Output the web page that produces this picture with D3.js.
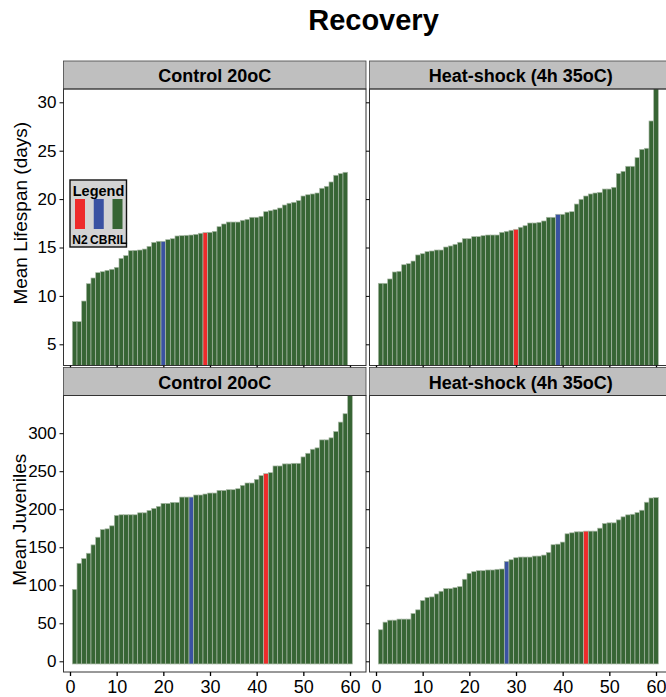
<!DOCTYPE html>
<html>
<head>
<meta charset="utf-8">
<script src="https://cdn.jsdelivr.net/npm/d3@7"></script>
<style>
  body { margin: 0; background: #fff; }
  text { font-family: "Liberation Sans", Arial, sans-serif; }
</style>
</head>
<body>
<div id="chart"></div>
<script>
// bar heights, sorted per panel (index 1..n)
const lifespanControl = [7.34, 7.34, 9.47, 11.26, 11.85, 12.40, 12.5, 12.64, 12.75, 12.95,
  13.88, 14.16, 14.67, 14.70, 14.74, 14.84, 15.12, 15.53, 15.64, 15.64,
  15.81, 15.91, 16.19, 16.22, 16.26, 16.29, 16.36, 16.47, 16.54, 16.57,
  16.67, 17.15, 17.43, 17.63, 17.63, 17.63, 17.81, 17.91, 18.12, 18.12,
  18.22, 18.70, 18.80, 18.91, 19.08, 19.39, 19.57, 19.67, 19.84, 20.32,
  20.45, 20.53, 20.63, 21.12, 21.32, 21.77, 22.46, 22.63, 22.77];
const lifespanHeat = [11.3, 11.3, 11.75, 12.47, 12.54, 13.22, 13.33, 13.6, 14.23, 14.36,
  14.57, 14.64, 14.74, 14.74, 15.05, 15.16, 15.33, 15.54, 15.91, 15.91,
  16.12, 16.12, 16.22, 16.29, 16.29, 16.29, 16.57, 16.67, 16.78, 16.88,
  17.09, 17.25, 17.53, 17.53, 17.6, 17.74, 18.12, 18.12, 18.43, 18.43,
  18.64, 18.7, 19.49, 19.98, 20.32, 20.53, 20.63, 20.70, 21.04, 21.04,
  21.22, 22.63, 22.87, 23.39, 23.39, 24.28, 25.14, 25.25, 28.07, 32.0];
const juvenilesControl = [94.6, 128.9, 135.1, 142.1, 153.1, 163.2, 173.3, 174.2, 178.2, 191.8,
  192.7, 192.7, 192.7, 192.7, 195.3, 195.3, 198.4, 201.1, 203.7, 207.7,
  207.7, 209, 209, 216, 216, 216, 218.7, 218.7, 220, 221.3,
  221.3, 224.8, 224.8, 225.7, 225.7, 227, 231.4, 234.5, 234.5, 239.3,
  244.2, 246.8, 248.1, 256.9, 256.9, 259.6, 259.6, 260.4, 260.4, 268.8,
  273.6, 278.9, 280.7, 291.2, 291.2, 293.9, 302.2, 314.6, 325.6, 360];
const juvenilesHeat = [41.5, 51.5, 54.1, 54.1, 55.5, 55.5, 55.5, 62.9, 67.7, 79.9,
  83.8, 84.7, 88.6, 92.1, 95.6, 95.6, 96.9, 98.3, 107.9, 115.7,
  117.9, 119.2, 119.2, 120.1, 120.1, 121, 121.4, 131.4, 133.6, 136.2,
  137.1, 137.1, 137.1, 138.4, 138.4, 139.7, 143.2, 153.3, 154.1, 156.8,
  167.7, 169, 170.3, 170.3, 171.2, 171.2, 171.2, 175.1, 181.2, 182.1,
  182.1, 186, 190, 192.6, 193.4, 195.6, 198.7, 209.2, 214.8, 215.3];

// rank of N2 and CB in each panel (same order as panels below)
const n2Rank = [29, 30, 42, 45];
const cbRank = [20, 39, 26, 28];

const conditions = ["Control 20oC", "Heat-shock (4h 35oC)"];
const measures = ["Mean Lifespan (days)", "Mean Juveniles"];
const yTicksTop = [5, 10, 15, 20, 25, 30];
const yTicksBottom = [0, 50, 100, 150, 200, 250, 300];
const xTicks = [0, 10, 20, 30, 40, 50, 60];
const legendLabels = ["N2", "CB", "RIL"];

const colors = { N2: "#ee2b2b", CB: "#3a52a2", RIL: "#376534" };

const width = 666, height = 697;
const colX = [63.5, 369.5], panelW = 302.5;
const rowTop = [61, 367.5], stripH = 28, rowH = 304.5;

const svg = d3.select("#chart").append("svg")
  .attr("width", width).attr("height", height);

svg.append("text")
  .attr("x", 373.5).attr("y", 30)
  .attr("text-anchor", "middle")
  .style("font-size", "29px").style("font-weight", "bold")
  .text("Recovery");

const x = d3.scaleLinear().domain([0, 60]).range([6.5, 286.5]);
const yScales = [
  d3.scaleLinear().domain([5, 30]).range([344.3, 102.3]),
  d3.scaleLinear().domain([0, 300]).range([661.3, 433.2])
];
const baseline = [null, -3.5];

const panels = [
  { row: 0, col: 0, values: lifespanControl },
  { row: 0, col: 1, values: lifespanHeat },
  { row: 1, col: 0, values: juvenilesControl },
  { row: 1, col: 1, values: juvenilesHeat }
];

const defs = svg.append("defs");

panels.forEach((p, k) => {
  const y = yScales[p.row];
  const left = colX[p.col];
  const top = rowTop[p.row];
  const plotTop = top + stripH;
  const bottom = top + rowH;

  defs.append("clipPath").attr("id", "clip" + k)
    .append("rect")
    .attr("x", left).attr("y", plotTop)
    .attr("width", panelW).attr("height", bottom - plotTop);

  const g = svg.append("g");

  const bars = p.values.map((v, i) => ({ rank: i + 1, value: v }));
  const base = baseline[p.row] === null ? bottom : y(baseline[p.row]);

  g.append("g").attr("clip-path", `url(#clip${k})`)
    .selectAll("rect").data(bars).join("rect")
    .attr("x", d => left + x(d.rank - 0.5))
    .attr("width", d => x(d.rank + 0.5) - x(d.rank - 0.5))
    .attr("y", d => y(d.value))
    .attr("height", d => Math.max(0, base - y(d.value)))
    .attr("fill", d => d.rank === n2Rank[k] ? colors.N2 : d.rank === cbRank[k] ? colors.CB : colors.RIL)
    .attr("stroke", "#a9b9a6")
    .attr("stroke-width", 0.7);

  // strip
  g.append("rect")
    .attr("x", left).attr("y", top)
    .attr("width", panelW).attr("height", stripH)
    .attr("fill", "#bfbfbf").attr("stroke", "#444").attr("stroke-width", 0.8);
  g.append("text")
    .attr("x", left + panelW / 2).attr("y", top + 21)
    .attr("text-anchor", "middle")
    .style("font-size", "18px").style("font-weight", "bold")
    .text(conditions[p.col]);

  // panel frame
  g.append("rect")
    .attr("x", left).attr("y", plotTop)
    .attr("width", panelW).attr("height", bottom - plotTop)
    .attr("fill", "none").attr("stroke", "#333").attr("stroke-width", 1);

  // y axis
  const ticks = p.row === 0 ? yTicksTop : yTicksBottom;
  const yAxis = d3.axisLeft(y).tickValues(ticks)
    .tickSize(p.col === 0 ? 4 : 3.5).tickSizeOuter(0)
    .tickFormat(p.col === 0 ? d3.format("d") : "");
  const ya = g.append("g").attr("transform", `translate(${left},0)`).call(yAxis);
  ya.select(".domain").remove();
  ya.selectAll("text").style("font-size", "17px").attr("fill", "#000");

  // x axis
  const xAxis = d3.axisBottom(x).tickValues(xTicks)
    .tickSize(4).tickSizeOuter(0)
    .tickFormat(p.row === 1 ? d3.format("d") : "");
  const xa = g.append("g").attr("transform", `translate(${left},${bottom})`).call(xAxis);
  xa.select(".domain").remove();
  xa.selectAll("line").attr("stroke-width", 1.3);
  xa.selectAll("text").style("font-size", "18px").attr("fill", "#000").attr("dy", "0.78em");
});

// y axis titles
measures.forEach((m, r) => {
  const cy = rowTop[r] + rowH / 2;
  svg.append("text")
    .attr("transform", `translate(${r === 0 ? 27 : 26},${cy}) rotate(-90)`)
    .attr("text-anchor", "middle")
    .style("font-size", "19px")
    .text(m);
});

// legend
const legend = svg.append("g").attr("transform", "translate(70,180)");
legend.append("rect")
  .attr("width", 56.5).attr("height", 67)
  .attr("fill", "#d3d3d3").attr("stroke", "#111").attr("stroke-width", 1.4);
legend.append("text")
  .attr("x", 28.5).attr("y", 15.5)
  .attr("text-anchor", "middle")
  .style("font-size", "14.5px").style("font-weight", "bold")
  .text("Legend");
const keyX = d3.scalePoint().domain(legendLabels).range([10, 47.5]);
legend.selectAll(".sw").data(legendLabels).join("rect")
  .attr("x", d => keyX(d) - 5).attr("y", 19)
  .attr("width", 10).attr("height", 30)
  .attr("fill", d => colors[d]);
legend.selectAll(".lb").data(legendLabels).join("text")
  .attr("x", d => keyX(d)).attr("y", 64)
  .attr("text-anchor", "middle")
  .style("font-size", "12px").style("font-weight", "bold")
  .text(d => d);
</script>
</body>
</html>
